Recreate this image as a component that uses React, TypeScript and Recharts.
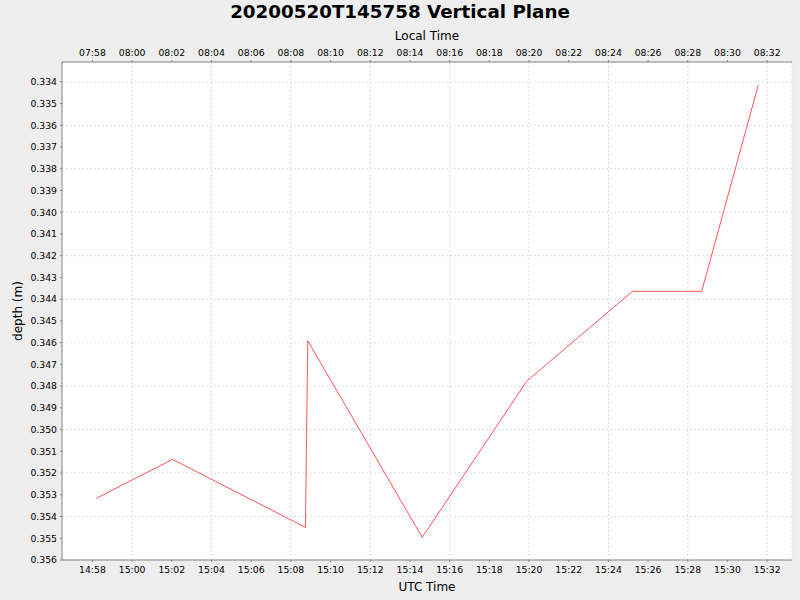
import React from 'react';
import { LineChart, Line, XAxis, YAxis, CartesianGrid, Label } from 'recharts';

// UTC sample times and depths (m)
const utcTimes = ['14:58:12', '15:02:02', '15:08:44', '15:08:51', '15:14:37', '15:19:53', '15:25:13', '15:28:42', '15:31:33'];
const depths = [0.35316, 0.35137, 0.3545, 0.34591, 0.35496, 0.34777, 0.34364, 0.34364, 0.33415];

const utcTickLabels = ['14:58', '15:00', '15:02', '15:04', '15:06', '15:08', '15:10', '15:12', '15:14', '15:16', '15:18', '15:20', '15:22', '15:24', '15:26', '15:28', '15:30', '15:32'];
const depthTicks = [0.334, 0.335, 0.336, 0.337, 0.338, 0.339, 0.34, 0.341, 0.342, 0.343, 0.344, 0.345, 0.346, 0.347, 0.348, 0.349, 0.35, 0.351, 0.352, 0.353, 0.354, 0.355, 0.356];
const localOffsetHours = -7;
const xDomainTimes = ['14:56:28', '15:33:15'];
const yDomain = [0.33309, 0.356];

const title = '20200520T145758 Vertical Plane';

const toSec = (s: string) => {
  const p = s.split(':').map(Number);
  return p[0] * 3600 + p[1] * 60 + (p[2] || 0);
};
const pad = (n: number) => String(n).padStart(2, '0');
const fmt = (sec: number) => {
  const s = ((sec % 86400) + 86400) % 86400;
  return `${pad(Math.floor(s / 3600))}:${pad(Math.floor((s % 3600) / 60))}`;
};

const data = utcTimes.map((t, i) => ({ t: toSec(t), depth: depths[i] }));
const xTicks = utcTickLabels.map(toSec);
const xDomain = xDomainTimes.map(toSec);

const FONT = 'DejaVu Sans';
const tickStyle = { fontSize: 9.3, fill: '#000', fontFamily: FONT };
const labelStyle = { fontSize: 12, fill: '#000', fontFamily: FONT };
const axisColor = '#888888';

export default function App() {
  return (
    <div style={{ position: 'absolute', left: 0, top: 0, width: 800, height: 600, background: '#EEEEEE', fontFamily: FONT }}>
      <div style={{ position: 'absolute', left: 0, top: 0, width: 800, height: 24, lineHeight: '24px', textAlign: 'center', fontSize: 18.3, fontWeight: 'bold', color: '#000' }}>
        {title}
      </div>
      <LineChart width={800} height={600} data={data} margin={{ top: 32, right: 8, bottom: 0, left: 0 }} style={{ position: 'absolute', left: 0, top: 0 }}>
        <CartesianGrid fill="#FFFFFF" stroke="#DDDDDD" strokeDasharray="2 2" />
        <XAxis
          dataKey="t"
          type="number"
          domain={xDomain}
          allowDataOverflow
          ticks={xTicks}
          tickFormatter={fmt}
          height={40}
          tick={tickStyle}
          tickSize={2}
          tickMargin={4}
          stroke={axisColor}
          tickLine={{ stroke: axisColor }}
          axisLine={{ stroke: axisColor }}
        >
          <Label value="UTC Time" position="insideBottom" offset={9} style={labelStyle} />
        </XAxis>
        <XAxis
          xAxisId="top"
          orientation="top"
          dataKey="t"
          type="number"
          domain={xDomain}
          allowDataOverflow
          ticks={xTicks}
          tickFormatter={(v: number) => fmt(v + localOffsetHours * 3600)}
          height={30}
          tick={tickStyle}
          tickSize={2}
          tickMargin={4}
          stroke={axisColor}
          tickLine={{ stroke: axisColor }}
          axisLine={{ stroke: axisColor }}
        >
          <Label value="Local Time" position="insideTop" offset={-1} style={labelStyle} />
        </XAxis>
        <YAxis
          type="number"
          reversed
          domain={yDomain}
          allowDataOverflow
          ticks={depthTicks}
          tickFormatter={(v: number) => v.toFixed(3)}
          width={62}
          tick={tickStyle}
          tickSize={2}
          tickMargin={3}
          stroke={axisColor}
          tickLine={{ stroke: axisColor }}
          axisLine={{ stroke: axisColor }}
        >
          <Label value="depth (m)" angle={-90} position="insideLeft" offset={18} style={{ ...labelStyle, textAnchor: 'middle' }} />
        </YAxis>
        <YAxis
          yAxisId="r"
          orientation="right"
          type="number"
          reversed
          domain={yDomain}
          allowDataOverflow
          width={0}
          tick={false}
          tickLine={false}
          axisLine={{ stroke: axisColor }}
        />
        <Line type="linear" dataKey="depth" stroke="#FF5555" strokeWidth={1} dot={false} isAnimationActive={false} />
      </LineChart>
    </div>
  );
}
